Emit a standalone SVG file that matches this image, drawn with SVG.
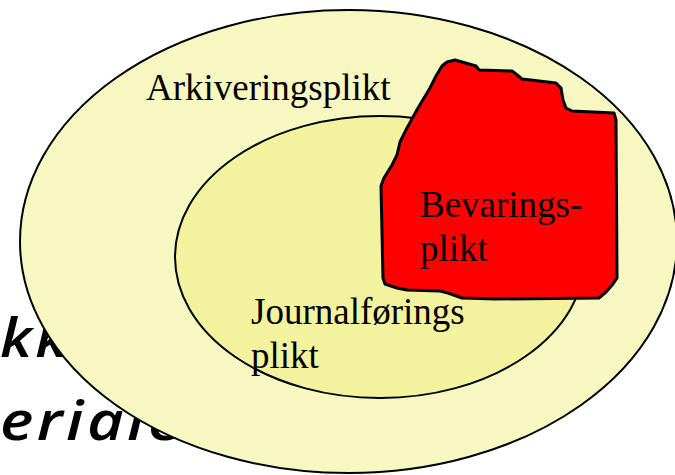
<svg xmlns="http://www.w3.org/2000/svg" width="675" height="475" viewBox="0 0 675 475">
  <style>
    .bg { font-family: "Open Sans", "Noto Sans", sans-serif; font-style: italic; font-weight: 600; font-size: 55px; letter-spacing: 3px; fill: #000; }
    .lbl { font-family: "Liberation Serif", "Times New Roman", serif; font-size: 37px; fill: #000; }
    .ell { stroke: #000; stroke-width: 2; }
  </style>
  <rect width="675" height="475" fill="#ffffff"/>
  <g id="background-text">
    <text class="bg" transform="translate(0,357) scale(1.1,1)" x="0" y="0">kk</text>
    <text class="bg" transform="translate(0,440) scale(1.15,1)" x="0" y="0">eriale</text>
  </g>
  <g id="arkiveringsplikt">
    <ellipse class="ell" cx="348.5" cy="241.5" rx="328.5" ry="231.5" fill="#F7F7C1"/>
  </g>
  <g id="journalforingsplikt">
    <ellipse class="ell" cx="380" cy="257" rx="205" ry="141" fill="#F2F29F"/>
  </g>
  <g id="bevaringsplikt">
    <path d="M 442,66 L 447,62 455,60 462,62 476,66 479,70 L 512,71 516,74 522,79 L 556,83 561,88 563,100 566,108 572,111 L 614,113 616,120 L 617,278 613,284 606,292 599,298 L 496,299 462,298 448,293 440,291 407,290 397,288 385,284 383,278 L 381,186 384,178 392,165 397,155 400,142 407,128 418,108 430,88 436,76 Z" fill="#FF0000" stroke="#000" stroke-width="3" stroke-linejoin="round"/>
  </g>
  <g id="labels">
    <text class="lbl" x="146" y="100">Arkiveringsplikt</text>
    <text class="lbl" x="420" y="217">Bevarings-</text>
    <text class="lbl" x="420" y="261">plikt</text>
    <text class="lbl" x="251" y="324">Journalførings</text>
    <text class="lbl" x="251" y="368">plikt</text>
  </g>
  <g id="connectors"/>
</svg>
